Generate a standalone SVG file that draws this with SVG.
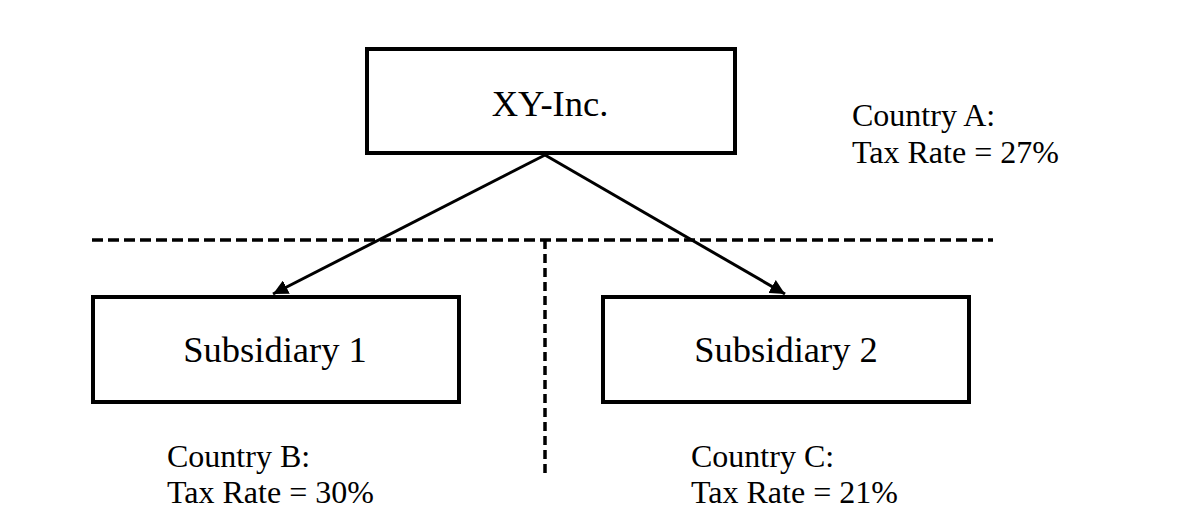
<svg xmlns="http://www.w3.org/2000/svg" width="1192" height="522" viewBox="0 0 1192 522">
<style>
.box{fill:#fff;stroke:#000;stroke-width:4}
.lbl{font-family:"Liberation Serif","Times New Roman",serif;fill:#000}
.n{font-size:36.5px;text-anchor:middle}
.c{font-size:32px}
.dash{stroke:#000;stroke-width:3.5;fill:none}
.edge{stroke:#000;stroke-width:3;fill:none}
</style>
<defs>
<marker id="ah" viewBox="0 0 10 10" refX="10" refY="5" markerWidth="5" markerHeight="5" orient="auto" markerUnits="strokeWidth">
<path d="M0,0 L10,5 L0,10 z" fill="#000"/>
</marker>
</defs>
<rect width="1192" height="522" fill="#fff"/>
<g id="dividers">
<line class="dash" x1="92" y1="240" x2="993" y2="240" stroke-dasharray="11 5"/>
<line class="dash" x1="545" y1="240" x2="545" y2="475" stroke-dasharray="9 5"/>
</g>
<g id="connectors">
<line class="edge" x1="545" y1="155" x2="273" y2="294" marker-end="url(#ah)"/>
<line class="edge" x1="545" y1="155" x2="785" y2="294" marker-end="url(#ah)"/>
</g>
<g id="xy-inc">
<rect class="box" x="367" y="49" width="368" height="104"/>
<text class="lbl n" x="550" y="116">XY-Inc.</text>
</g>
<g id="subsidiary1">
<rect class="box" x="93" y="297" width="366" height="105"/>
<text class="lbl n" x="275" y="362">Subsidiary 1</text>
</g>
<g id="subsidiary2">
<rect class="box" x="603" y="297" width="366" height="105"/>
<text class="lbl n" x="786" y="362">Subsidiary 2</text>
</g>
<g id="country-a">
<text class="lbl c" x="852" y="126">Country A:</text>
<text class="lbl c" x="852" y="163">Tax Rate = 27%</text>
</g>
<g id="country-b">
<text class="lbl c" x="167" y="467">Country B:</text>
<text class="lbl c" x="167" y="503">Tax Rate = 30%</text>
</g>
<g id="country-c">
<text class="lbl c" x="691" y="467">Country C:</text>
<text class="lbl c" x="691" y="503">Tax Rate = 21%</text>
</g>
</svg>
